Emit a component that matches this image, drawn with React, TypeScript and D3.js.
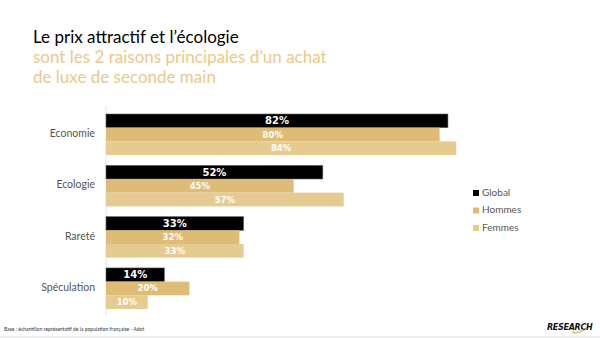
import React from "react";
import * as d3 from "d3";

const categories = ["Economie", "Ecologie", "Rareté", "Spéculation"];
const series = ["Global", "Hommes", "Femmes"];
const globalValues = [82, 52, 33, 14];
const hommesValues = [80, 45, 32, 20];
const femmesValues = [84, 57, 33, 10];
const seriesColors = ["#000000", "#DFBC76", "#E6CB90"];
const titleLines = ["Le prix attractif et l’écologie", "sont les 2 raisons principales d’un achat", "de luxe de seconde main"];
const footnote = "Base : échantillon représentatif de la population française - Adot";

export default function App() {
  const W = 600, H = 338;
  const values = [globalValues, hommesValues, femmesValues];
  const x = d3.scaleLinear().domain([0, 100]).range([106, 523]);
  const y = d3.scaleBand<string>().domain(categories).range([114, 309]).paddingInner(0.2);
  const ys = d3.scaleBand<string>().domain(series).range([0, y.bandwidth()]);
  const font = "Lato, 'Open Sans', sans-serif";

  return (
    <svg width={W} height={H} style={{ position: "absolute", left: 0, top: 0, background: "#fff" }} fontFamily={font}>
      <rect x={0} y={0} width={W} height={H} fill="#fff" />
      {titleLines.map((t, i) => (
        <text key={i} x={33} y={43 + i * 20} fontSize={17} fill={i === 0 ? "#000" : "#E8C98B"} fontWeight={400}>
          {t}
        </text>
      ))}
      <line x1={x(0)} x2={x(0)} y1={106} y2={316} stroke="#e2e2e2" strokeWidth={1} />
      {categories.map((c, ci) => (
        <g key={c}>
          <text x={95} y={(y(c) as number) + y.bandwidth() / 2} textAnchor="end" dominantBaseline="middle" fontSize={10.5} fill="#555">
            {c}
          </text>
          {series.map((s, si) => {
            const v = values[si][ci];
            const by = (y(c) as number) + (ys(s) as number);
            return (
              <g key={s}>
                <rect
                  x={x(0)}
                  y={by}
                  width={x(v) - x(0)}
                  height={ys.bandwidth()}
                  fill={seriesColors[si]}
                  stroke={si === 0 ? "#666" : "none"}
                  strokeWidth={0.6}
                />
                <text
                  x={(x(0) + x(v)) / 2}
                  y={by + ys.bandwidth() / 2 + 0.5}
                  textAnchor="middle"
                  dominantBaseline="middle"
                  fontSize={si === 0 ? 10 : 8.5}
                  fontWeight={700}
                  fill="#fff"
                  fontFamily="Verdana, 'DejaVu Sans', sans-serif"
                >
                  {v}%
                </text>
              </g>
            );
          })}
        </g>
      ))}
      {series.map((s, si) => (
        <g key={s}>
          <rect x={473} y={190 + si * 17.5} width={6} height={6} fill={seriesColors[si]} />
          <text x={482} y={193 + si * 17.5} dominantBaseline="middle" fontSize={10} fill="#555">
            {s}
          </text>
        </g>
      ))}
      <text x={4} y={331} fontSize={5} fill="#333">{footnote}</text>
      <rect x={0} y={336} width={W} height={2} fill="#eeeeee" />
      <text x={547} y={330} fontSize={8} fontWeight={900} fontStyle="italic" fill="#111" fontFamily="'DejaVu Sans', sans-serif" letterSpacing={-0.3}>
        RESEARCH
      </text>
      <path d="M572,332 q5,2 12,-2" stroke="#DFBC76" strokeWidth={1.5} fill="none" />
    </svg>
  );
}
